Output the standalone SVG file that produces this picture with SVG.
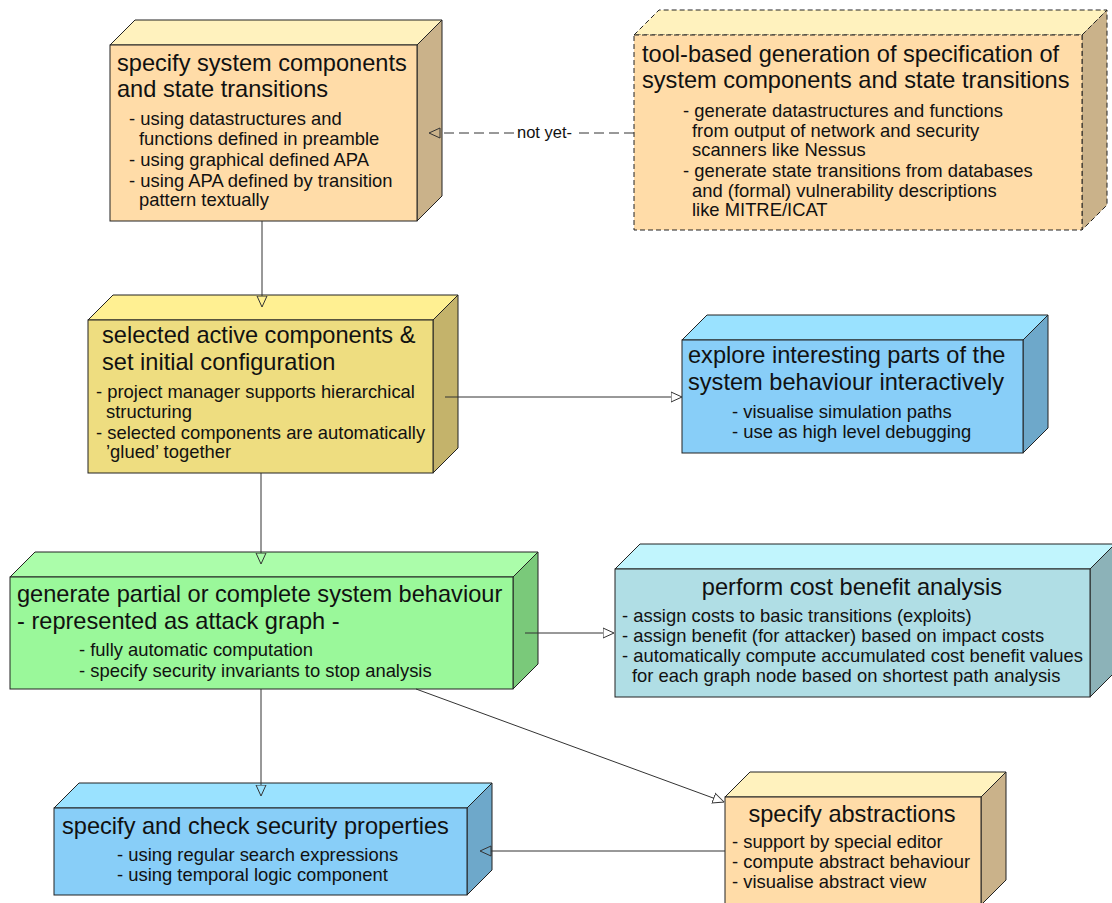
<svg xmlns="http://www.w3.org/2000/svg" width="1112" height="903" viewBox="0 0 1112 903">
<style>
text{font-family:"Liberation Sans",Arial,Helvetica,sans-serif;fill:#111}
.t{font-size:23.6px}
.b{font-size:18.4px}
.lbl{font-size:16.5px}
.c{text-anchor:middle}
.bx polygon,.bx rect{stroke:#222;stroke-width:1}
.dash polygon,.dash rect{stroke-dasharray:5,3}
.peach .f{fill:#FFDCA8}.peach .tp{fill:#FFF2BE}.peach .sd{fill:#CAB28A}
.yel .f{fill:#EEDD80}.yel .tp{fill:#FFF092}.yel .sd{fill:#C4B36B}
.blue .f{fill:#88CEF8}.blue .tp{fill:#9AE2FF}.blue .sd{fill:#6EA8CA}
.green .f{fill:#9AF89A}.green .tp{fill:#ABFDAA}.green .sd{fill:#7AC97A}
.cost .f{fill:#B0DEE5}.cost .tp{fill:#C1F5FD}.cost .sd{fill:#8CB2B8}
.ln{stroke:#333;stroke-width:1;fill:none}
</style>
<defs>
<marker id="ah" viewBox="0 0 12 12" refX="0.5" refY="6" markerWidth="12" markerHeight="12" markerUnits="userSpaceOnUse" orient="auto">
<path d="M0.5,1 L11.5,6 L0.5,11 z" fill="none" stroke="#333" stroke-width="1"/>
</marker>
</defs>

<g id="spec-components" class="bx peach">
<polygon class="tp" points="110,45 135,20 442,20 417,45"/>
<polygon class="sd" points="417,45 442,20 442,196 417,221"/>
<rect class="f" x="110" y="45" width="307" height="176"/>
<text class="t" x="117" y="71">specify system components</text>
<text class="t" x="117" y="97">and state transitions</text>
<text class="b" x="129" y="125">- using datastructures and</text>
<text class="b" x="139" y="145">functions defined in preamble</text>
<text class="b" x="129" y="166">- using graphical defined APA</text>
<text class="b" x="129" y="187">- using APA defined by transition</text>
<text class="b" x="139" y="206">pattern textually</text>
</g>

<g id="tool-generation" class="bx peach dash">
<polygon class="tp" points="634,35 659,10 1107,10 1082,35"/>
<polygon class="sd" points="1082,35 1107,10 1107,205 1082,230"/>
<rect class="f" x="634" y="35" width="448" height="195"/>
<text class="t" x="642" y="62">tool-based generation of specification of</text>
<text class="t" x="642" y="88">system components and state transitions</text>
<text class="b" x="683" y="117">- generate datastructures and functions</text>
<text class="b" x="692" y="137">from output of network and security</text>
<text class="b" x="692" y="156">scanners like Nessus</text>
<text class="b" x="683" y="177">- generate state transitions from databases</text>
<text class="b" x="692" y="197">and (formal) vulnerability descriptions</text>
<text class="b" x="692" y="216">like MITRE/ICAT</text>
</g>

<g id="select-components" class="bx yel">
<polygon class="tp" points="88,320 113,295 458,295 433,320"/>
<polygon class="sd" points="433,320 458,295 458,448 433,473"/>
<rect class="f" x="88" y="320" width="345" height="153"/>
<text class="t" x="102" y="343">selected active components &amp;</text>
<text class="t" x="102" y="370">set initial configuration</text>
<text class="b" x="96" y="398">- project manager supports hierarchical</text>
<text class="b" x="106" y="418">structuring</text>
<text class="b" x="96" y="439">- selected components are automatically</text>
<text class="b" x="106" y="458">’glued’ together</text>
</g>

<g id="explore" class="bx blue">
<polygon class="tp" points="682,340 707,315 1048,315 1023,340"/>
<polygon class="sd" points="1023,340 1048,315 1048,428 1023,453"/>
<rect class="f" x="682" y="340" width="341" height="113"/>
<text class="t" x="688" y="363">explore interesting parts of the</text>
<text class="t" x="688" y="390">system behaviour interactively</text>
<text class="b" x="732" y="418">- visualise simulation paths</text>
<text class="b" x="732" y="438">- use as high level debugging</text>
</g>

<g id="generate-behaviour" class="bx green">
<polygon class="tp" points="10,577 35,552 538,552 513,577"/>
<polygon class="sd" points="513,577 538,552 538,664 513,689"/>
<rect class="f" x="10" y="577" width="503" height="112"/>
<text class="t" x="17" y="602">generate partial or complete system behaviour</text>
<text class="t" x="17" y="629">- represented as attack graph -</text>
<text class="b" x="79" y="656">- fully automatic computation</text>
<text class="b" x="79" y="677">- specify security invariants to stop analysis</text>
</g>

<g id="cost-benefit" class="bx cost">
<polygon class="tp" points="615,569 640,544 1115,544 1090,569"/>
<polygon class="sd" points="1090,569 1115,544 1115,672 1090,697"/>
<rect class="f" x="615" y="569" width="475" height="128"/>
<text class="t c" x="852" y="595">perform cost benefit analysis</text>
<text class="b" x="622" y="622">- assign costs to basic transitions (exploits)</text>
<text class="b" x="622" y="642">- assign benefit (for attacker) based on impact costs</text>
<text class="b" x="622" y="662">- automatically compute accumulated cost benefit values</text>
<text class="b" x="632" y="682">for each graph node based on shortest path analysis</text>
</g>

<g id="security-properties" class="bx blue">
<polygon class="tp" points="54,808 79,783 492,783 467,808"/>
<polygon class="sd" points="467,808 492,783 492,870 467,895"/>
<rect class="f" x="54" y="808" width="413" height="87"/>
<text class="t" x="62" y="834">specify and check security properties</text>
<text class="b" x="117" y="861">- using regular search expressions</text>
<text class="b" x="117" y="881">- using temporal logic component</text>
</g>

<g id="abstractions" class="bx peach">
<polygon class="tp" points="725,797 750,772 1006,772 981,797"/>
<polygon class="sd" points="981,797 1006,772 1006,880 981,905"/>
<rect class="f" x="725" y="797" width="256" height="108"/>
<text class="t c" x="852" y="822">specify abstractions</text>
<text class="b" x="732" y="848">- support by special editor</text>
<text class="b" x="732" y="868">- compute abstract behaviour</text>
<text class="b" x="732" y="888">- visualise abstract view</text>
</g>

<g id="connectors">
<line class="ln" x1="262" y1="221" x2="262" y2="296" marker-end="url(#ah)"/>
<line class="ln" x1="634" y1="133" x2="575" y2="133" stroke-dasharray="10,5"/>
<line class="ln" x1="514" y1="133" x2="440" y2="133" stroke-dasharray="10,5" marker-end="url(#ah)"/>
<text class="lbl" x="517" y="138">not yet-</text>
<line class="ln" x1="445" y1="397" x2="671" y2="397" marker-end="url(#ah)"/>
<line class="ln" x1="261" y1="473" x2="261" y2="553" marker-end="url(#ah)"/>
<line class="ln" x1="525" y1="633" x2="603" y2="633" marker-end="url(#ah)"/>
<line class="ln" x1="261" y1="689" x2="261" y2="785" marker-end="url(#ah)"/>
<line class="ln" x1="416" y1="689" x2="713.7" y2="798.2" marker-end="url(#ah)"/>
<line class="ln" x1="725" y1="851" x2="491" y2="851" marker-end="url(#ah)"/>
</g>
</svg>
